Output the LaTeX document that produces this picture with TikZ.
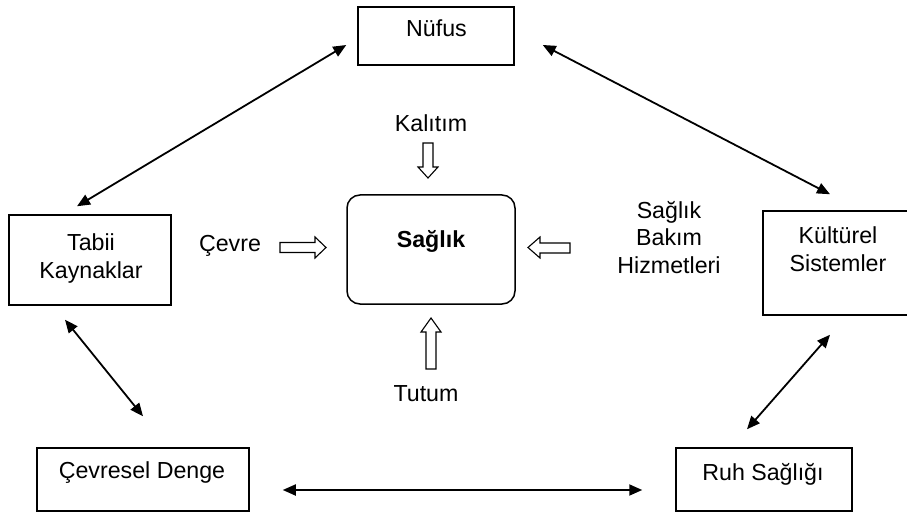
\documentclass[tikz,border=0pt]{standalone}
\usepackage{fontspec}
\setmainfont{Liberation Sans}
\usetikzlibrary{arrows.meta,calc}
\begin{document}
\begin{tikzpicture}[x=1pt,y=-1pt]
\tikzset{
  box/.style={draw=black, line width=1.5pt, inner sep=0pt},
  txt/.style={font=\fontsize{23.2pt}{27.5pt}\selectfont, inner sep=0pt, align=center, anchor=base},
  link/.style={line width=1.8pt, {Triangle[length=13pt,width=11pt]}-{Triangle[length=13pt,width=11pt]}},
  hollow/.style={draw=black, line width=1.1pt, fill=white, line join=miter},
}
\clip (0,0) rectangle (907,513);
\fill[white] (0,0) rectangle (907,513);

% boxes
\node[box, minimum width=156pt, minimum height=58pt] (nufus) at (436,36) {};
\node[box, minimum width=162pt, minimum height=90pt] (tabii) at (90,260) {};
\node[box, minimum width=150pt, minimum height=104pt] (kultur) at (838,263) {};
\node[box, minimum width=212pt, minimum height=63pt] (cevresel) at (143,479.5) {};
\node[box, minimum width=176pt, minimum height=63pt] (ruh) at (764,479.5) {};
\node[box, rounded corners=13pt, minimum width=168pt, minimum height=109pt] (saglik) at (431,249.5) {};

% texts
\node[txt] (nufusT) at (436.5,37) {Nüfus};
\node[txt] (tabiiT) at (91,278) {\fontsize{23.2pt}{31pt}\selectfont Tabii\\Kaynaklar};
\node[txt] (kulturT) at (838,271) {\fontsize{23.2pt}{28pt}\selectfont Kültürel\\Sistemler};
\node[txt] (cevreselT) at (142,478) {Çevresel Denge};
\node[txt] (ruhT) at (763,480) {Ruh Sağlığı};
\node[txt, font=\fontsize{23.2pt}{27.5pt}\selectfont\bfseries] (saglikT) at (431,247) {Sağlık};
\node[txt] (kalitim) at (431,132) {Kalıtım};
\node[txt] (tutum) at (426,401) {Tutum};
\node[txt] (cevre) at (230,251) {Çevre};
\node[txt] (hizmet) at (669,273) {\fontsize{23.2pt}{27.5pt}\selectfont Sağlık\\Bakım\\Hizmetleri};

% bidirectional connectors
\coordinate (a1) at ($(nufus.west)+(-11,9)$);
\coordinate (a2) at ($(tabii.north)+(-13,-8)$);
\draw[link] (a1) -- (a2);
\coordinate (b1) at ($(nufus.east)+(28,9)$);
\coordinate (b2) at ($(kultur.north)+(-8,-16)$);
\draw[link] (b1) -- (b2);
\coordinate (c1) at ($(tabii.south)+(-25,14)$);
\coordinate (c2) at ($(cevresel.north)+(0,-31)$);
\draw[link] (c1) -- (c2);
\coordinate (d1) at ($(kultur.south)+(-8,19)$);
\coordinate (d2) at ($(ruh.north)+(-17,-18)$);
\draw[link] (d1) -- (d2);
\coordinate (e1) at ($(cevresel.east)+(33,10.5)$);
\coordinate (e2) at ($(ruh.west)+(-33,10.5)$);
\draw[link] (e1) -- (e2);

% hollow block arrows
\draw[hollow] (280,242.5) -- (315,242.5) -- (315,237) -- (326,247.5) -- (315,258) -- (315,252.5) -- (280,252.5) -- cycle;
\draw[hollow] (570,243) -- (540,243) -- (540,237) -- (528,247.5) -- (540,258) -- (540,253) -- (570,253) -- cycle;
\draw[hollow] (423,143) -- (423,167) -- (418,167) -- (428,178) -- (438,167) -- (433,167) -- (433,143) -- cycle;
\draw[hollow] (426,369) -- (426,332) -- (421,332) -- (431,318) -- (441,332) -- (436,332) -- (436,369) -- cycle;
\end{tikzpicture}
\end{document}
